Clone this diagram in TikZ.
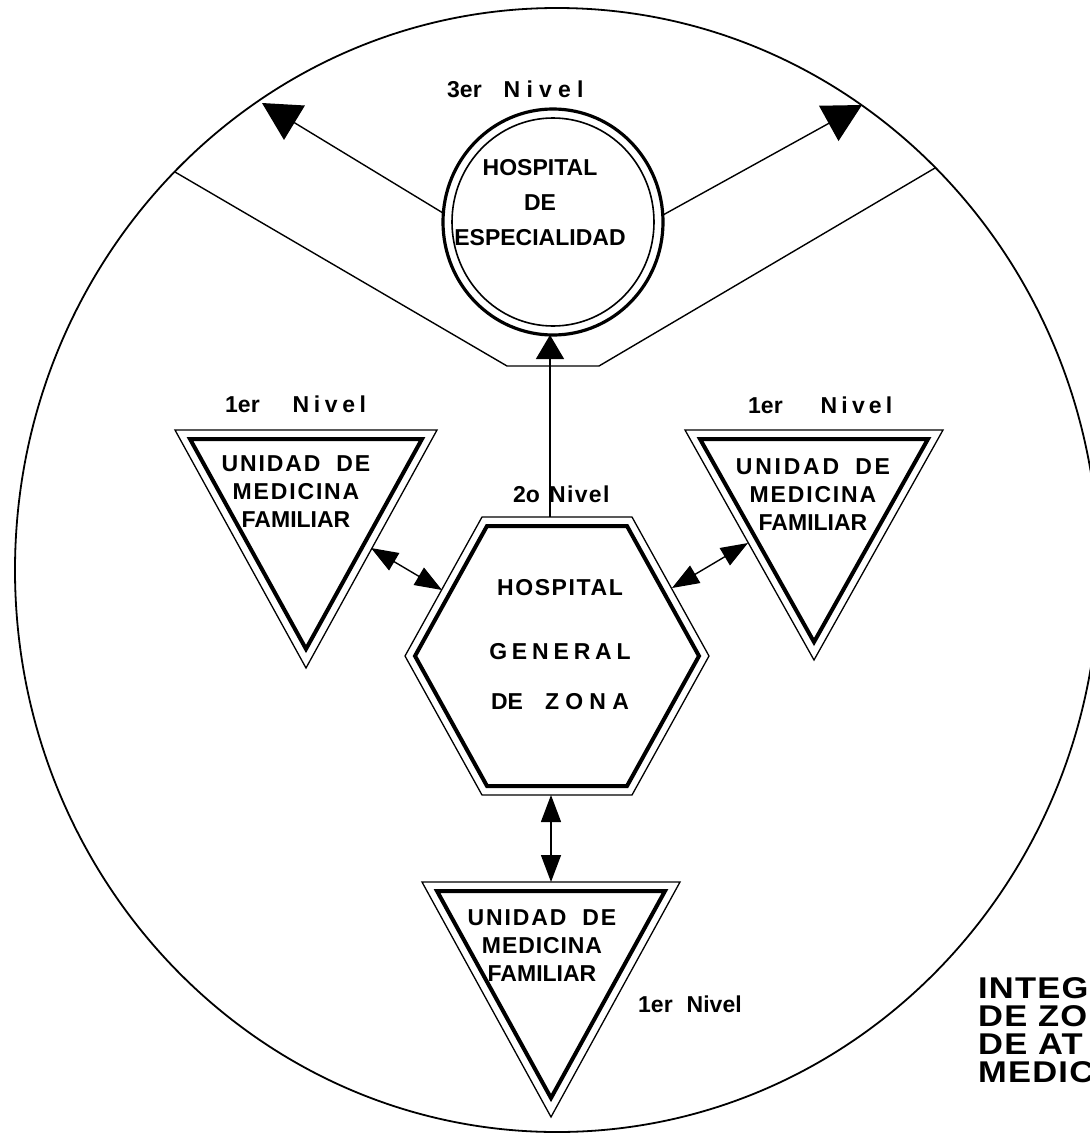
\documentclass[tikz,border=0pt]{standalone}
\usepackage{fontspec}
\setmainfont{Liberation Sans}
\newfontfamily\titlefont{Liberation Sans}[FakeStretch=1.15]
\usetikzlibrary{arrows.meta}
\newcommand{\tracked}[2]{{\addfontfeatures{LetterSpace=#1}#2}}
\tikzset{
  rim/.style={line width=1.8pt},
  thinline/.style={line width=1.4pt},
  outerline/.style={line width=1.3pt, line join=miter},
  innerline/.style={line width=4pt, line join=miter},
  bigtip/.style={-{Triangle[length=38pt,width=40pt]}},
  uptip/.style={-{Triangle[length=24pt,width=28pt]}},
  bothtip/.style={{Triangle[length=27pt,width=20pt]}-{Triangle[length=27pt,width=20pt]}},
  boxtext/.style={font=\bfseries\fontsize{23}{28}\selectfont, inner sep=0pt, align=center},
  niveltext/.style={font=\bfseries\fontsize{23}{27}\selectfont, inner sep=0pt, anchor=base west},
  titletext/.style={font=\titlefont\bfseries\fontsize{30}{28}\selectfont, inner sep=0pt, align=left, anchor=north west},
}
\begin{document}
\begin{tikzpicture}[x=1pt,y=-1pt]
      \useasboundingbox (0,0) rectangle (1090,1133);
      \draw[rim] (557,570) ellipse [x radius=542, y radius=562];
      \draw[thinline] (175,172) -- (507,366) -- (599,366) -- (935,168);
      \draw[line width=3.2pt] (553,222) ellipse [x radius=110, y radius=113];
      \draw[line width=1.6pt] (553,222) ellipse [x radius=101, y radius=104];
      \draw[outerline] (482,517) -- (632,517) -- (709,656) -- (632,795) -- (482,795) -- (405,656) -- cycle;
      \draw[innerline] (487,526) -- (627,526) -- (699,656) -- (627,786) -- (487,786) -- (415,656) -- cycle;
      \draw[outerline] (175,430) -- (437,430) -- (306,668) -- cycle;
      \draw[innerline] (190,439) -- (422,439) -- (306,649) -- cycle;
      \draw[outerline] (685,430) -- (943,430) -- (814,660) -- cycle;
      \draw[innerline] (700,439) -- (928,439) -- (814,642) -- cycle;
      \draw[outerline] (422,882) -- (680,882) -- (551,1117) -- cycle;
      \draw[innerline] (437,891) -- (665,891) -- (551,1098) -- cycle;
      \node[boxtext, font=\bfseries\fontsize{23}{35}\selectfont] (hde) at (540,203) {HOSPITAL\\DE\\ESPECIALIDAD};
      \node[boxtext] (hgz) at (560,645) {\tracked{7}{HOSPITAL}\\[36pt]\tracked{21}{GENERAL}\\[22pt]DE\hspace{22pt}\tracked{27}{ZONA}};
      \node[boxtext] (umfl) at (296,492) {\tracked{8}{UNIDAD\hspace{0.7em}DE}\\\tracked{8}{MEDICINA}\\FAMILIAR};
      \node[boxtext] (umfr) at (813,495) {\tracked{12}{UNIDAD\hspace{0.7em}DE}\\\tracked{8}{MEDICINA}\\FAMILIAR};
      \node[boxtext] (umfb) at (542,946) {\tracked{8}{UNIDAD\hspace{0.7em}DE}\\\tracked{4}{MEDICINA}\\FAMILIAR};
      \node[niveltext] (n3) at (447,97) {3er\hspace{22pt}\tracked{27}{Nivel}};
      \node[niveltext] (n2) at (513,502) {2o\hspace{9pt}\tracked{6}{Nivel}};
      \node[niveltext] (n1l) at (225,412) {1er\hspace{33pt}\tracked{20}{Nivel}};
      \node[niveltext] (n1r) at (748,413) {1er\hspace{38pt}\tracked{18}{Nivel}};
      \node[niveltext] (n1b) at (638,1012) {1er\hspace{14pt}Nivel};
      \node[titletext] (titulo) at (978,977) {\tracked{4}{INTEG}\\\tracked{4}{DE ZO}\\\tracked{4}{DE AT}\\\tracked{4}{MEDIC}};
      \coordinate (hde-w) at (443,213);
      \coordinate (hde-e) at (663,215);
      \coordinate (hde-s) at (550,335);
      \coordinate (rim-w) at (262,103);
      \coordinate (rim-e) at (862,105);
      \coordinate (hgz-n) at (550,517);
      \coordinate (hgz-nw) at (442,590);
      \coordinate (hgz-ne) at (672,588);
      \coordinate (hgz-s) at (551,795);
      \coordinate (umfl-e) at (371,548);
      \coordinate (umfr-w) at (748,543);
      \coordinate (umfb-n) at (551,882);
      \begin{scope}[thinline]
        \draw[bigtip] (hde-w) -- (rim-w);
        \draw[bigtip] (hde-e) -- (rim-e);
        \draw[uptip] (hgz-n) -- (hde-s);
        \draw[bothtip] (umfl-e) -- (hgz-nw);
        \draw[bothtip] (umfr-w) -- (hgz-ne);
        \draw[bothtip] (hgz-s) -- (umfb-n);
      \end{scope}
    \end{tikzpicture}
\end{document}
